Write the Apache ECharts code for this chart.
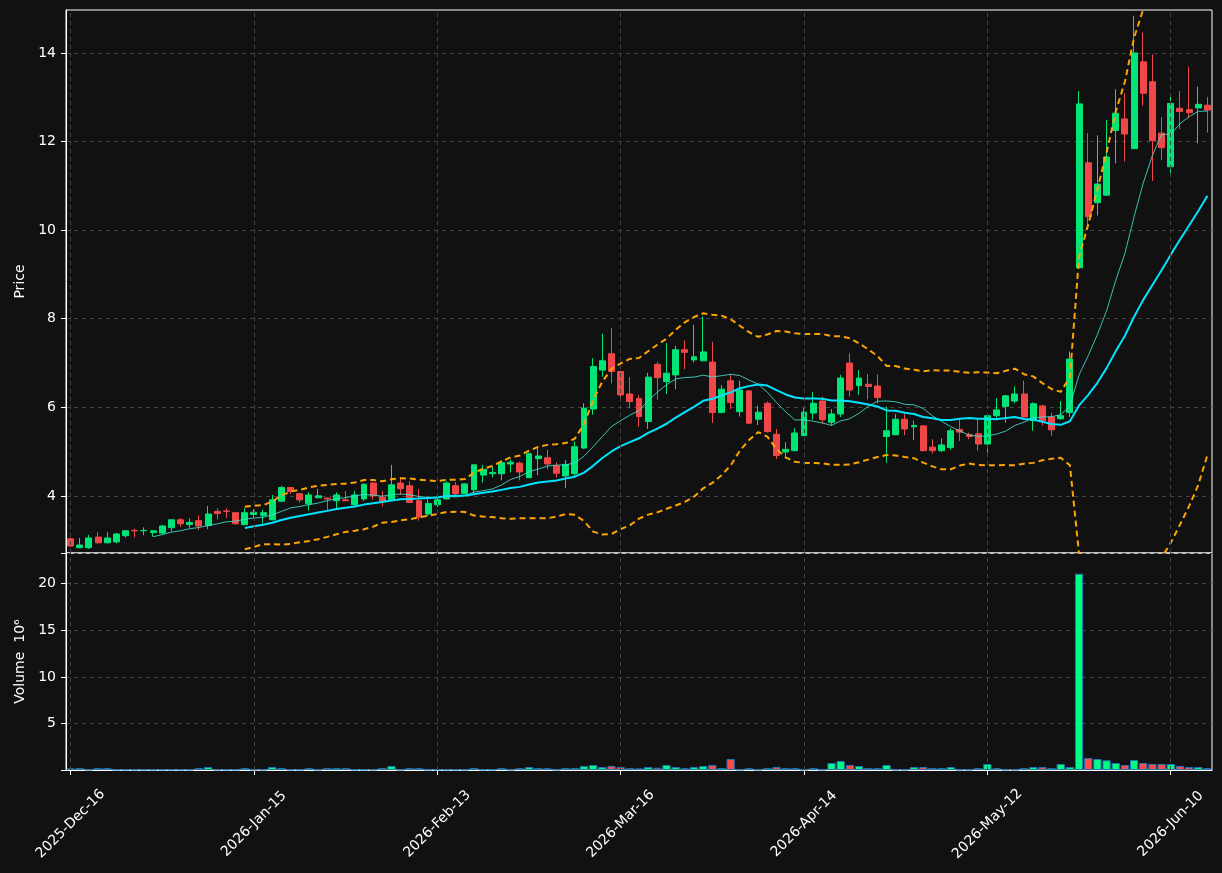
<!DOCTYPE html>
<html>
<head>
<meta charset="utf-8">
<script src="https://cdn.jsdelivr.net/npm/echarts@6/dist/echarts.min.js"></script>
<style>
  html, body { margin: 0; padding: 0; background: #111111; }
  #chart { width: 1222px; height: 873px; }
</style>
</head>
<body>
<div id="chart"></div>
<script>
// trading days start here; weekends and these holidays are skipped
const startDate = '2025-12-16';
const holidays = ['2025-12-25', '2026-01-01', '2026-01-19', '2026-02-16', '2026-04-03', '2026-05-25'];
const tickStep = 20;

// OHLC, one row per candle
const opens = [
  3.03, 2.83, 2.83, 3.07, 2.94, 2.96, 3.10, 3.22, 3.21, 3.17,
  3.16, 3.28, 3.46, 3.35, 3.44, 3.33, 3.65, 3.66, 3.62, 3.35,
  3.58, 3.56, 3.46, 3.88, 4.19, 4.05, 3.82, 3.96, 3.95, 3.89,
  3.91, 3.80, 3.93, 4.29, 3.97, 3.91, 4.29, 4.23, 3.89, 3.59,
  3.80, 3.93, 4.23, 4.05, 4.14, 4.47, 4.50, 4.50, 4.72, 4.74,
  4.41, 4.84, 4.86, 4.68, 4.45, 4.50, 5.08, 5.96, 6.84, 7.21,
  6.81, 6.30, 6.20, 5.68, 6.97, 6.58, 6.73, 7.30, 7.07, 7.05,
  7.02, 5.88, 6.60, 5.90, 6.37, 5.73, 6.09, 5.39, 4.99, 5.02,
  5.36, 5.87, 6.14, 5.66, 5.85, 7.00, 6.49, 6.52, 6.48, 5.34,
  5.38, 5.73, 5.56, 5.58, 5.10, 5.02, 5.09, 5.50, 5.38, 5.40,
  5.17, 5.81, 6.02, 6.14, 6.30, 5.70, 6.03, 5.78, 5.74, 5.88,
  9.15, 11.52, 10.62, 10.79, 12.25, 12.51, 11.84, 13.80, 13.35, 12.19,
  11.43, 12.75, 12.72, 12.76, 12.82
];
const highs = [
  3.05, 3.05, 3.12, 3.18, 3.18, 3.16, 3.23, 3.26, 3.29, 3.22,
  3.34, 3.46, 3.50, 3.49, 3.56, 3.77, 3.72, 3.72, 3.62, 3.72,
  3.70, 3.69, 4.02, 4.22, 4.20, 4.06, 4.08, 4.16, 3.96, 4.08,
  4.11, 4.11, 4.28, 4.31, 4.11, 4.70, 4.42, 4.33, 4.15, 3.95,
  3.96, 4.33, 4.31, 4.28, 4.71, 4.70, 4.66, 4.81, 4.82, 4.77,
  4.98, 5.08, 5.04, 4.76, 4.81, 5.23, 6.09, 7.11, 7.66, 7.79,
  6.82, 6.68, 6.28, 6.78, 7.03, 7.45, 7.39, 7.51, 7.86, 8.05,
  7.48, 6.50, 6.75, 6.60, 6.38, 6.04, 6.13, 5.51, 5.21, 5.53,
  5.98, 6.34, 6.24, 5.96, 6.73, 7.22, 6.84, 6.75, 6.74, 6.02,
  5.85, 5.85, 5.70, 5.59, 5.28, 5.30, 5.53, 5.73, 5.43, 5.73,
  5.82, 6.21, 6.28, 6.47, 6.60, 6.11, 6.06, 5.88, 6.14, 7.26,
  13.14, 12.19, 12.14, 12.49, 13.18, 13.09, 14.84, 14.46, 13.97, 12.55,
  13.09, 13.14, 13.69, 13.24, 13.01
];
const lows = [
  2.85, 2.82, 2.80, 2.92, 2.93, 2.93, 3.06, 3.06, 3.11, 3.08,
  3.13, 3.20, 3.30, 3.28, 3.23, 3.25, 3.47, 3.50, 3.35, 3.35,
  3.50, 3.38, 3.45, 3.86, 4.04, 3.85, 3.67, 3.94, 3.68, 3.72,
  3.88, 3.78, 3.89, 3.91, 3.76, 3.90, 4.02, 3.84, 3.44, 3.54,
  3.75, 3.92, 3.98, 4.04, 4.02, 4.30, 4.42, 4.35, 4.53, 4.35,
  4.40, 4.47, 4.60, 4.42, 4.17, 4.40, 5.06, 5.83, 6.69, 6.54,
  6.13, 5.98, 5.56, 5.51, 6.17, 6.30, 6.41, 6.86, 7.01, 7.04,
  5.65, 5.87, 5.96, 5.79, 5.63, 5.60, 5.43, 4.83, 4.85, 5.01,
  5.35, 5.72, 5.63, 5.59, 5.78, 6.24, 6.28, 6.18, 6.09, 4.75,
  5.37, 5.37, 5.26, 5.01, 4.96, 4.99, 5.04, 5.24, 5.28, 5.02,
  4.98, 5.72, 5.65, 6.09, 5.77, 5.47, 5.59, 5.36, 5.72, 5.78,
  9.14, 10.08, 10.33, 10.78, 11.51, 11.55, 11.83, 12.81, 11.11, 11.58,
  11.29, 12.28, 12.53, 11.96, 12.20
];
const closes = [
  2.87, 2.89, 3.05, 2.94, 3.05, 3.14, 3.21, 3.21, 3.22, 3.21,
  3.32, 3.46, 3.37, 3.40, 3.32, 3.59, 3.60, 3.65, 3.37, 3.62,
  3.63, 3.62, 3.91, 4.19, 4.10, 3.91, 4.02, 4.00, 3.93, 4.02,
  3.89, 4.02, 4.26, 4.00, 3.88, 4.25, 4.16, 3.85, 3.52, 3.83,
  3.91, 4.29, 4.05, 4.27, 4.70, 4.60, 4.53, 4.75, 4.76, 4.54,
  4.95, 4.90, 4.72, 4.51, 4.71, 5.11, 5.98, 6.92, 7.05, 6.81,
  6.28, 6.13, 5.79, 6.68, 6.67, 6.77, 7.30, 7.24, 7.14, 7.25,
  5.88, 6.41, 6.11, 6.39, 5.64, 5.89, 5.45, 4.91, 5.05, 5.42,
  5.89, 6.09, 5.72, 5.85, 6.66, 6.39, 6.66, 6.47, 6.22, 5.47,
  5.73, 5.51, 5.59, 5.02, 5.02, 5.15, 5.47, 5.44, 5.34, 5.17,
  5.81, 5.94, 6.26, 6.30, 5.78, 6.08, 5.70, 5.49, 5.81, 7.09,
  12.85, 10.30, 11.04, 11.65, 12.64, 12.17, 14.00, 13.09, 12.02, 11.86,
  12.86, 12.68, 12.65, 12.84, 12.71
];
// volume in millions
const volumes = [
  0.18, 0.20, 0.05, 0.20, 0.20, 0.05, 0.05, 0.05, 0.05, 0.05,
  0.05, 0.05, 0.05, 0.05, 0.20, 0.32, 0.05, 0.05, 0.05, 0.20,
  0.05, 0.05, 0.32, 0.20, 0.05, 0.05, 0.20, 0.05, 0.20, 0.20,
  0.20, 0.05, 0.05, 0.05, 0.20, 0.43, 0.05, 0.20, 0.20, 0.05,
  0.05, 0.05, 0.05, 0.05, 0.20, 0.05, 0.05, 0.20, 0.05, 0.20,
  0.32, 0.20, 0.20, 0.05, 0.20, 0.20, 0.43, 0.54, 0.32, 0.43,
  0.32, 0.20, 0.18, 0.32, 0.25, 0.54, 0.32, 0.20, 0.32, 0.43,
  0.54, 0.20, 1.18, 0.05, 0.20, 0.05, 0.20, 0.32, 0.20, 0.20,
  0.05, 0.20, 0.05, 0.75, 0.96, 0.54, 0.43, 0.20, 0.20, 0.54,
  0.05, 0.05, 0.32, 0.32, 0.20, 0.20, 0.32, 0.05, 0.05, 0.20,
  0.64, 0.20, 0.05, 0.05, 0.20, 0.32, 0.32, 0.20, 0.64, 0.32,
  21.07, 1.29, 1.18, 1.04, 0.75, 0.54, 1.07, 0.75, 0.64, 0.64,
  0.64, 0.43, 0.32, 0.32, 0.20
];
const priceTicks = [4, 6, 8, 10, 12, 14];

const upColor = '#00e676';
const downColor = '#f04848';
const volUp = '#00ff80';
const volDown = '#ff4a4a';
const gridLine = '#444444';
const font = 'DejaVu Sans';

// build trading-day categories
const months = ['Jan', 'Feb', 'Mar', 'Apr', 'May', 'Jun', 'Jul', 'Aug', 'Sep', 'Oct', 'Nov', 'Dec'];
const pad = (n) => (n < 10 ? '0' + n : '' + n);
const dates = [];
let d = new Date(startDate + 'T00:00:00Z');
while (dates.length < closes.length) {
  const iso = d.getUTCFullYear() + '-' + pad(d.getUTCMonth() + 1) + '-' + pad(d.getUTCDate());
  const wd = d.getUTCDay();
  if (wd !== 0 && wd !== 6 && holidays.indexOf(iso) < 0) {
    dates.push(d.getUTCFullYear() + '-' + months[d.getUTCMonth()] + '-' + pad(d.getUTCDate()));
  }
  d = new Date(d.getTime() + 86400000);
}

// moving averages and bollinger bands from closes
const rolling = (n) => closes.map((c, i) => {
  if (i < n - 1) return null;
  const w = closes.slice(i - n + 1, i + 1);
  return w.reduce((a, b) => a + b, 0) / n;
});
const ma10 = rolling(10);
const ma20 = rolling(20);
const std20 = closes.map((c, i) => {
  if (i < 19) return null;
  const w = closes.slice(i - 19, i + 1);
  const m = ma20[i];
  return Math.sqrt(w.reduce((a, b) => a + (b - m) * (b - m), 0) / 19);
});
const upper = ma20.map((m, i) => (m === null ? null : m + 2 * std20[i]));
const lower = ma20.map((m, i) => (m === null ? null : m - 2 * std20[i]));

const candleData = opens.map((o, i) => [o, closes[i], lows[i], highs[i]]);
const volData = volumes.map((v, i) => ({
  value: v,
  itemStyle: { color: closes[i] >= opens[i] ? volUp : volDown }
}));

const showTick = (idx) => idx % tickStep === 0;
const vLines = dates.filter((x, i) => showTick(i)).map((x) => ({ xAxis: x }));

const chart = echarts.init(document.getElementById('chart'));
const markGrid = {
  silent: true,
  symbol: ['none', 'none'],
  label: { show: false },
  lineStyle: { color: gridLine, type: [4, 4], width: 1 },
  emphasis: { disabled: true },
  data: vLines,
  animation: false
};

chart.setOption({
  backgroundColor: '#111111',
  animation: false,
  textStyle: { fontFamily: font },
  grid: [
    { left: 66, right: 10, top: 10, height: 543, show: true, borderColor: '#ffffff', borderWidth: 1 },
    { left: 66, right: 10, top: 553, height: 217, show: true, borderColor: '#ffffff', borderWidth: 1 }
  ],
  xAxis: [
    {
      type: 'category', gridIndex: 0, data: dates, boundaryGap: true,
      axisLine: { show: false }, axisTick: { show: false }, axisLabel: { show: false },
      splitLine: { show: false }
    },
    {
      type: 'category', gridIndex: 1, data: dates, boundaryGap: true,
      axisLine: { show: true, lineStyle: { color: '#ffffff' } },
      axisTick: { show: true, alignWithLabel: true, interval: (i) => showTick(i), length: 5, lineStyle: { color: '#ffffff' } },
      // rotated labels centred under the tick, as in the reference
      axisLabel: {
        interval: (i) => showTick(i), rotate: 45, color: '#ffffff', fontSize: 14, fontFamily: font,
        margin: 54, align: 'center', verticalAlign: 'middle'
      },
      splitLine: { show: false }
    }
  ],
  yAxis: [
    {
      type: 'value', gridIndex: 0, min: 2.71, max: 14.97, scale: true,
      name: 'Price', nameLocation: 'middle', nameGap: 36,
      nameTextStyle: { color: '#ffffff', fontSize: 14, fontFamily: font },
      axisLine: { show: true, lineStyle: { color: '#ffffff' } },
      axisTick: { show: true, length: 5, customValues: priceTicks, lineStyle: { color: '#ffffff' } },
      axisLabel: { customValues: priceTicks, color: '#ffffff', fontSize: 14, fontFamily: font, margin: 10 },
      splitLine: { show: true, lineStyle: { color: gridLine, type: [4, 4] } }
    },
    {
      type: 'value', gridIndex: 1, min: 0, max: 23.3, interval: 5,
      name: 'Volume  10\u2076', nameLocation: 'middle', nameGap: 36,
      nameTextStyle: { color: '#ffffff', fontSize: 14, fontFamily: font },
      axisLine: { show: true, lineStyle: { color: '#ffffff' } },
      axisTick: { show: true, length: 5, lineStyle: { color: '#ffffff' } },
      axisLabel: {
        color: '#ffffff', fontSize: 14, fontFamily: font, margin: 10,
        formatter: (v) => (v > 0 && v % 5 === 0 ? String(v) : '')
      },
      splitLine: { show: true, lineStyle: { color: gridLine, type: [4, 4] } }
    }
  ],
  series: [
    { type: 'line', xAxisIndex: 0, yAxisIndex: 0, data: [], z: 1, markLine: markGrid },
    { type: 'line', xAxisIndex: 1, yAxisIndex: 1, data: [], z: 1, markLine: markGrid },
    {
      name: 'OHLC', type: 'candlestick', xAxisIndex: 0, yAxisIndex: 0, data: candleData, barWidth: '70%',
      itemStyle: { color: upColor, color0: downColor, borderColor: upColor, borderColor0: downColor, borderWidth: 1 }
    },
    {
      name: 'MA10', type: 'line', xAxisIndex: 0, yAxisIndex: 0, data: ma10, showSymbol: false, symbol: 'none',
      lineStyle: { color: 'rgba(64,224,208,0.85)', width: 1 }, z: 3
    },
    {
      name: 'MA20', type: 'line', xAxisIndex: 0, yAxisIndex: 0, data: ma20, showSymbol: false, symbol: 'none',
      lineStyle: { color: '#00e5ff', width: 2 }, z: 3
    },
    {
      name: 'Upper', type: 'line', xAxisIndex: 0, yAxisIndex: 0, data: upper, showSymbol: false, symbol: 'none',
      lineStyle: { color: '#ffa500', width: 2, type: [6, 4] }, z: 3
    },
    {
      name: 'Lower', type: 'line', xAxisIndex: 0, yAxisIndex: 0, data: lower, showSymbol: false, symbol: 'none',
      lineStyle: { color: '#ffa500', width: 2, type: [6, 4] }, z: 3
    },
    {
      name: 'Volume', type: 'bar', xAxisIndex: 1, yAxisIndex: 1, data: volData, barWidth: '90%',
      itemStyle: { borderColor: '#1f77b4', borderWidth: 1 }
    }
  ]
});
</script>
</body>
</html>
